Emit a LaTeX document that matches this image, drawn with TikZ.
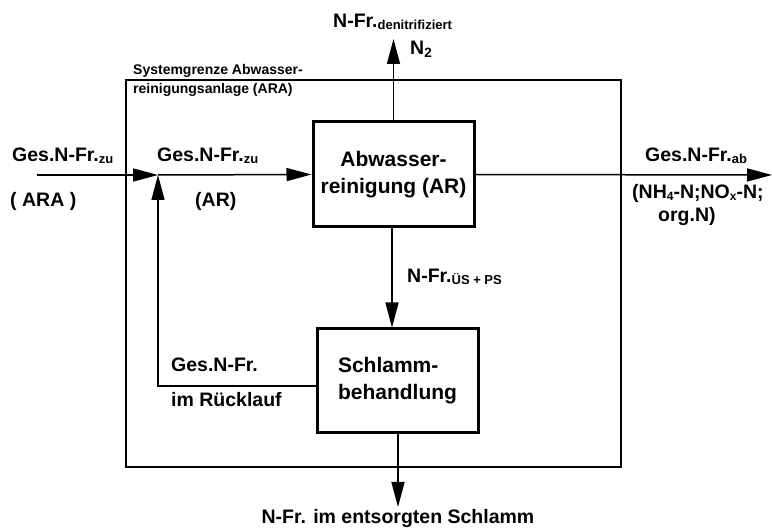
\documentclass[tikz,border=0pt]{standalone}
\usepackage{fontspec}
\setmainfont{Liberation Sans}
\usetikzlibrary{arrows.meta}

% small lowered index text
\newcommand{\ix}[1]{\raisebox{-1.5pt}{\fontsize{13}{14}\selectfont #1}}
\newcommand{\ixs}[1]{\raisebox{-1.5pt}{\fontsize{12}{13}\selectfont #1}}
\newcommand{\ixd}[1]{\raisebox{-3pt}{\fontsize{13.5}{14}\selectfont #1}}

\tikzset{
  procbox/.style={draw, line width=3pt, minimum width=161pt, inner sep=0pt,
    font=\fontsize{21}{27}\selectfont\bfseries},
  lbl/.style={inner sep=0pt, font=\fontsize{19.5}{22}\selectfont\bfseries},
  smalllbl/.style={inner sep=0pt, font=\fontsize{14}{19}\selectfont\bfseries},
  flow/.style={line width=1.5pt, -{Triangle[length=25pt,width=13pt]}},
  boundary/.style={draw, line width=1.3pt}
}

\begin{document}
\begin{tikzpicture}[x=1pt, y=-1pt]
\useasboundingbox (0,0) rectangle (772,529);

% system boundary of the treatment plant
\draw[boundary] (126,80) rectangle (621,467);
\node[smalllbl, anchor=base west] (sysA) at (133,75) {Systemgrenze Abwasser-};
\node[smalllbl, anchor=base west] (sysB) at (133,94) {reinigungsanlage (ARA)};

% process units
\node[procbox, minimum height=105pt, align=center] (ar) at (393.5,174.5)
  {Abwasser-\\reinigung (AR)};
\node[procbox, minimum height=104pt, align=left] (sch) at (397.5,381)
  {Schlamm-\\behandlung};

% free ends and bends of the flows
\coordinate (in) at (37,175);
\coordinate (jn) at (158,175);
\coordinate (ret) at (158,386);
\coordinate (gas) at (393.5,39);
\coordinate (eff) at (772,175);
\coordinate (disp) at (398,507);

% flows
\draw[flow] (in) -- (jn);
\draw[flow] (jn) -- (ar.west);
\draw[flow] (sch.west |- ret) -- (ret) -- (jn);
\draw[flow] (ar.north) -- (gas);
\draw[flow] (ar.east) -- (eff);
\draw[flow] (ar.south -| 392,0) -- (sch.north -| 392,0);
\draw[flow] (sch.south -| disp) -- (disp);

% flow labels
\node[lbl, anchor=base west] (zuA) at (12,162) {Ges.N-Fr.\ix{zu}};
\node[lbl, anchor=base west] (zuAb) at (10,207) {( ARA )};
\node[lbl, anchor=base west] (zuR) at (157,162) {Ges.N-Fr.\ix{zu}};
\node[lbl, anchor=base west] (zuRb) at (195,207) {(AR)};
\node[lbl, anchor=base west] (den) at (333,28) {N-Fr.\ix{denitrifiziert}};
\node[lbl, anchor=base west] (ntwo) at (410,55) {N\ixd{2}};
\node[lbl, anchor=base west] (ues) at (407,283) {N-Fr.\ix{ÜS + PS}};
\node[lbl, anchor=base west] (rlA) at (171,372) {Ges.N-Fr.};
\node[lbl, anchor=base west] (rlB) at (171,407) {im Rücklauf};
\node[lbl, anchor=base west] (abA) at (645,162) {Ges.N-Fr.\ix{ab}};
\node[lbl, anchor=base west] (abB) at (632,199) {(NH\ixs{4}-N;NO\ixs{x}-N;};
\node[lbl, anchor=base west] (abC) at (658,222) {org.N)};
\node[lbl, anchor=base] (displ) at (398,524) {N-Fr. im entsorgten Schlamm};
\end{tikzpicture}
\end{document}
